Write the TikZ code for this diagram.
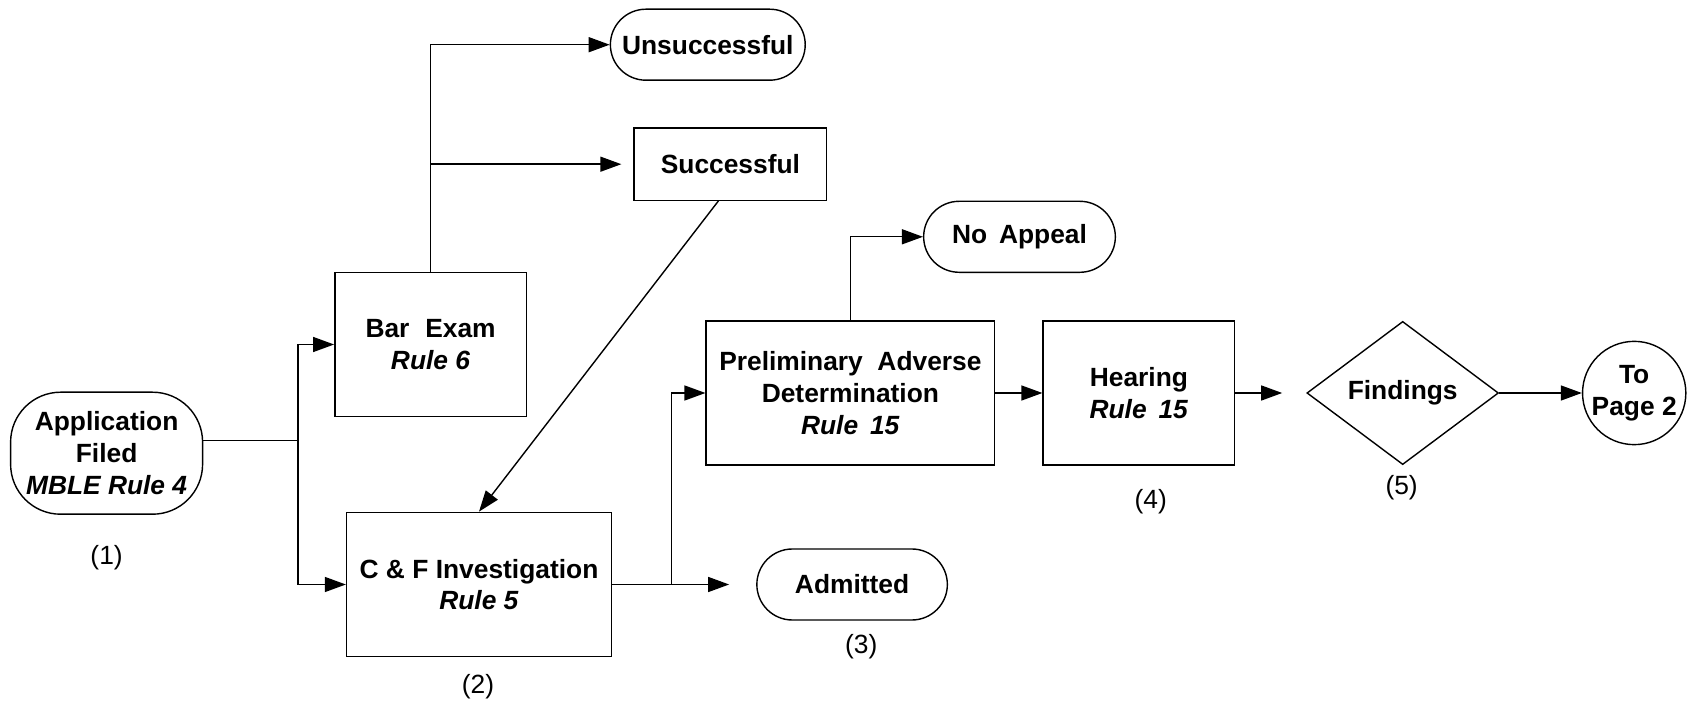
\documentclass[tikz,border=0pt]{standalone}
\usepackage{fontspec}
\setmainfont{Liberation Sans}
\usetikzlibrary{arrows.meta,shapes.geometric,positioning}

\begin{document}
\begin{tikzpicture}[
  font=\fontsize{7.5}{9}\selectfont,
  flow/.style={-{Triangle[length=2.1mm,width=1.5mm]}},
  procbox/.style={draw,align=center,minimum height=1.443cm,font=\fontsize{7.5}{9}\selectfont\bfseries},
  terminal/.style={draw,align=center,rounded corners=0.355cm,minimum width=1.92cm,minimum height=0.71cm,font=\fontsize{7.5}{9}\selectfont\bfseries}
  ]
  \useasboundingbox (0,0) rectangle (16.88,7.04);
  % Start
  \node[terminal,rounded corners=0.5cm,minimum height=1.22cm,inner sep=1pt] (app) at (1.066,2.508)
    {Application\\Filed\\\textit{MBLE Rule 4}};
  \node at (1.066,1.464) (lab1) {(1)};
  % Left branch
  \node[procbox,minimum width=1.916cm] (barexam) at (4.306,3.595) {Bar\hspace{0.6em}Exam\\\textit{Rule 6}};
  \node[procbox,minimum width=2.649cm] (cfinv) at (4.790,1.195) {C \& F Investigation\\\textit{Rule 5}};
  \node at (4.78,0.172) (lab2) {(2)};
  \coordinate (split) at (2.98,2.637);
  \draw (app.east |- split) -- (split);
  \draw[flow] (split) |- (barexam.west);
  \draw[flow] (split) |- (cfinv.west);
  % Exam results
  \node[terminal,minimum width=1.948cm] (unsucc) at (7.078,6.593) {Unsuccessful};
  \node[draw,minimum width=1.927cm,minimum height=0.721cm,font=\fontsize{7.5}{9}\selectfont\bfseries] (succ) at (7.304,5.398) {Successful};
  \draw[flow] (barexam.north) |- (unsucc.west);
  \draw[flow,shorten >=0.12cm] (barexam.north |- succ) -- (succ.west);
  \draw[flow] ([xshift=-0.12cm]succ.south) -- (cfinv.north);
  % Investigation outcomes
  \node[terminal,minimum width=1.905cm] (admitted) at (8.521,1.195) {Admitted};
  \node at (8.612,0.57) (lab3) {(3)};
  \node[procbox,minimum width=2.885cm] (prelim) at (8.504,3.11)
    {Preliminary\ \ Adverse\\Determination\\\textit{Rule\hspace{0.45em}15}};
  \coordinate (split2) at (6.717,1.195);
  \draw (cfinv.east) -- (split2);
  \draw[flow,shorten >=0.27cm] (split2) -- (admitted.west);
  \draw[flow] (split2) |- (prelim.west);
  \node[terminal,minimum width=1.917cm] (noappeal) at (10.195,4.672) {No\hspace{0.45em}Appeal};
  \draw[flow] (prelim.north) |- (noappeal.west);
  % Hearing and findings
  \node[procbox,minimum width=1.916cm] (hearing) at (11.389,3.11) {Hearing\\\textit{Rule\hspace{0.45em}15}};
  \node at (11.508,2.024) (lab4) {(4)};
  \draw[flow] (prelim.east) -- (hearing.west);
  \node[draw,diamond,inner sep=0pt,minimum width=1.916cm,minimum height=1.432cm,
    font=\fontsize{7.5}{9}\selectfont\bfseries] (findings) at (14.027,3.11) {Findings};
  \node at (14.016,2.163) (lab5) {(5)};
  \draw[flow,shorten >=0.24cm] (hearing.east) -- (findings.west);
  \node[draw,circle,minimum size=1.033cm,inner sep=0pt,align=center,
    font=\fontsize{7.5}{9}\selectfont\bfseries] (page2) at (16.342,3.11) {To\\Page 2};
  \draw[flow] (findings.east) -- (page2.west);
\end{tikzpicture}
\end{document}
